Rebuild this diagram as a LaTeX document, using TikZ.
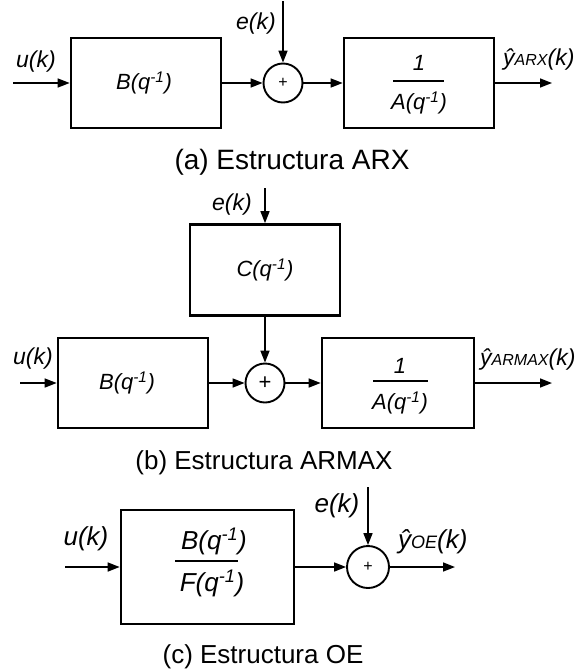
\documentclass[tikz,border=0pt]{standalone}
\usepackage{fontspec}
\setmainfont{Liberation Sans}
\usetikzlibrary{arrows.meta}
\newcommand{\qinv}{(q\textsuperscript{-1})}
\newcommand{\fs}[1]{\fontsize{#1}{#1}\selectfont}
\begin{document}
\begin{tikzpicture}[x=1pt,y=-1pt,
  blk/.style={draw,line width=2.7pt,inner sep=0pt},
  sumc/.style={draw,circle,line width=1.9pt,inner sep=0pt},
  sig/.style={line width=1.6pt,-{Triangle[length=12pt,width=9pt]}},
  lbl/.style={font=\fs{23}\itshape,inner sep=0pt},
  btxt/.style={font=\fs{22}\itshape,inner sep=0pt},
  lblc/.style={font=\fs{26}\itshape,inner sep=0pt},
  fracl/.style={line width=1.9pt},
  captxt/.style={inner sep=0pt}]
\useasboundingbox (0,0) rectangle (579,672);

% ---------- (a) ARX ----------
\node[blk,minimum width=150,minimum height=90] (Ba) at (146,83) {};
\node[btxt] (Bta) at (144,83) {B\qinv};
\node[blk,minimum width=150,minimum height=90] (Aa) at (419,83) {};
\node[btxt] (Aa1) at (419,63) {1};
\node[btxt] (Aa2) at (419,103) {A\qinv};
\coordinate (fa1) at (393,81); \coordinate (fa2) at (444,81);
\draw[fracl] (fa1) -- (fa2);
\node[sumc,minimum size=39] (Sa) at (283,83) {\fs{16}+};
\coordinate (ua) at (13,83);
\coordinate (ea) at (283,1);
\coordinate (ya) at (552,83);
\draw[sig] (ua) -- (Ba);
\draw[sig] (Ba) -- (Sa);
\draw[sig] (ea) -- (Sa);
\draw[sig] (Sa) -- (Aa);
\draw[sig] (Aa) -- (ya);
\node[lbl] (uka) at (36,62) {u(k)};
\node[lbl] (eka) at (256,24) {e(k)};
\node[lbl,anchor=base west] (yka) at (503,65) {ŷ{\fs{16}ARX}(k)};
\node[captxt,font=\fs{28}] (capa) at (292,162) {(a) Estructura ARX};

% ---------- (b) ARMAX ----------
\node[blk,minimum width=150,minimum height=91] (Cb) at (265,270) {};
\node[btxt] (Ctb) at (265,270) {C\qinv};
\node[blk,minimum width=150,minimum height=90] (Bb) at (133,383) {};
\node[btxt] (Btb) at (127,383) {B\qinv};
\node[blk,minimum width=152,minimum height=90] (Ab) at (398,383) {};
\node[btxt] (Ab1) at (400,366) {1};
\node[btxt] (Ab2) at (400,403) {A\qinv};
\coordinate (fb1) at (373,381); \coordinate (fb2) at (428,381);
\draw[fracl] (fb1) -- (fb2);
\node[sumc,minimum size=39] (Sb) at (265,383) {\fs{22}+};
\coordinate (ub) at (20,383);
\coordinate (eb) at (265,188);
\coordinate (yb) at (552,383);
\draw[sig] (eb) -- (Cb);
\draw[sig] (Cb) -- (Sb);
\draw[sig] (ub) -- (Bb);
\draw[sig] (Bb) -- (Sb);
\draw[sig] (Sb) -- (Ab);
\draw[sig] (Ab) -- (yb);
\node[lbl] (ukb) at (33,359) {u(k)};
\node[lbl] (ekb) at (232,205) {e(k)};
\node[lbl,anchor=base west] (ykb) at (480,365) {ŷ{\fs{16}ARMAX}(k)};
\node[captxt,font=\fs{26}] (capb) at (264,463) {(b) Estructura ARMAX};

% ---------- (c) OE ----------
\node[blk,minimum width=173,minimum height=114] (Gc) at (207.5,567) {};
\node[lblc] (Gc1) at (214,541) {B\qinv};
\node[lblc] (Gc2) at (212,583) {F\qinv};
\coordinate (fc1) at (175,561); \coordinate (fc2) at (238,561);
\draw[fracl] (fc1) -- (fc2);
\node[sumc,minimum size=42] (Sc) at (368,567) {\fs{16}+};
\coordinate (uc) at (65,567);
\coordinate (ec) at (368,487);
\coordinate (yc) at (455,567);
\draw[sig] (uc) -- (Gc);
\draw[sig] (Gc) -- (Sc);
\draw[sig] (ec) -- (Sc);
\draw[sig] (Sc) -- (yc);
\node[lblc] (ukc) at (86,539) {u(k)};
\node[lblc] (ekc) at (337,506) {e(k)};
\node[lblc,anchor=base west] (ykc) at (398,548) {ŷ{\fs{18}OE}(k)};
\node[captxt,font=\fs{26}] (capc) at (263,657) {(c) Estructura OE};
\end{tikzpicture}
\end{document}
